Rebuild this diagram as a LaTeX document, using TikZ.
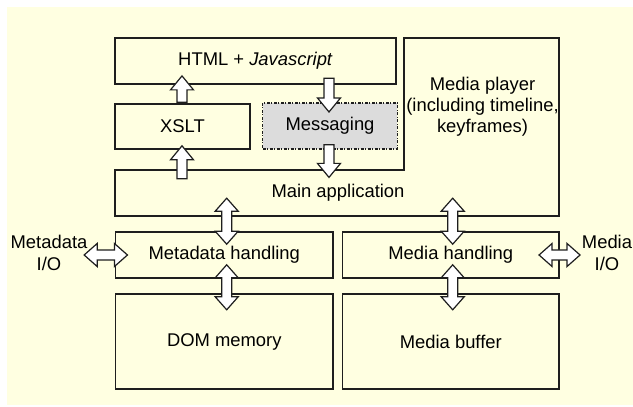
\documentclass[tikz,border=0pt]{standalone}
\usepackage{fontspec}
\setmainfont{Liberation Sans}
\usetikzlibrary{calc}

\definecolor{paper}{RGB}{255,255,225}
\definecolor{msgfill}{RGB}{220,220,220}
\definecolor{ink}{RGB}{30,30,30}

\tikzset{
  box/.style={draw=ink, line width=1.6pt, inner sep=0pt, anchor=center},
  msgbox/.style={box, fill=msgfill, line width=1.4pt,
    dash pattern=on 3pt off 1.5pt on 1pt off 1.5pt},
  blockarr/.style={draw=ink, fill=white, line width=1.2pt, line join=miter},
  lbl/.style={align=center, inner sep=0pt}
}

% one-headed block arrow: tail, tip
\newcommand\onearrow[2]{%
  \coordinate (h) at ($(#2)!14pt!(#1)$);
  \draw[blockarr] ($(#1)!5pt!90:(#2)$) -- ($(h)!5pt!90:(#2)$) -- ($(h)!11.5pt!90:(#2)$)
    -- (#2) -- ($(h)!11.5pt!-90:(#2)$) -- ($(h)!5pt!-90:(#2)$) -- ($(#1)!5pt!-90:(#2)$) -- cycle;
}
% two-headed block arrow: tip, tip
\newcommand\twoarrow[2]{%
  \coordinate (ha) at ($(#1)!13pt!(#2)$);
  \coordinate (hb) at ($(#2)!13pt!(#1)$);
  \draw[blockarr] (#1) -- ($(ha)!11.5pt!90:(#2)$) -- ($(ha)!5pt!90:(#2)$) -- ($(hb)!5pt!90:(#2)$)
    -- ($(hb)!11.5pt!90:(#2)$) -- (#2) -- ($(hb)!11.5pt!-90:(#2)$) -- ($(hb)!5pt!-90:(#2)$)
    -- ($(ha)!5pt!-90:(#2)$) -- ($(ha)!11.5pt!-90:(#2)$) -- cycle;
}

\begin{document}
\begin{tikzpicture}[x=1pt, y=1pt, font=\fontsize{18.4}{21.3}\selectfont]
\useasboundingbox (0,0) rectangle (633,407);
\fill[paper] (7,2) rectangle (633,400);

\coordinate (M1) at (115,237);
\coordinate (M2) at (404,237);
\coordinate (M3) at (404,369);
\coordinate (M4) at (559,369);
\coordinate (M5) at (559,191);
\coordinate (M6) at (115,191);

\node[box, minimum width=281, minimum height=46] (html) at (255.5,346) {HTML + \textit{Javascript}};
\node[box, minimum width=135, minimum height=45] (xslt) at (182.5,280.5) {XSLT};
\node[msgbox, minimum width=134.5, minimum height=46] (msg) at (330,281) {Messaging};

\draw[draw=ink, line width=1.6pt] (M1) -- (M2) -- (M3) -- (M4) -- (M5) -- (M6) -- cycle;
\node[lbl] (mainlbl) at (338,214) {Main application};
\node[lbl] (player) at (482.5,300.3) {Media player\\(including timeline,\\keyframes)};

\node[box, minimum width=217.3, minimum height=46] (metah) at (224.3,152) {Metadata handling};
\node[box, minimum width=216.3, minimum height=46] (mediah) at (450.8,152) {Media handling};
\node[box, minimum width=217.3, minimum height=95] (dom) at (224.3,65.5) {DOM memory};
\node[box, minimum width=216.3, minimum height=95] (buf) at (450.8,65.5) {Media buffer};

\node[lbl] (metaio) at (49,154) {Metadata\\I/O};
\node[lbl] (mediaio) at (607,154) {Media\\I/O};

% arrow ends
\coordinate (a1) at ($(xslt.north)+(-0.5,1)$);
\coordinate (b1) at ($(xslt.north)+(-0.5,27.3)$);
\coordinate (a2) at ($(xslt.south)+(-0.5,-29)$);
\coordinate (b2) at ($(xslt.south)+(-0.5,4)$);
\coordinate (a3) at ($(msg.north)+(-1,24)$);
\coordinate (b3) at ($(msg.north)+(-1,-9.7)$);
\coordinate (a4) at ($(msg.south)+(-1,5)$);
\coordinate (b4) at ($(msg.south)+(-1,-27.7)$);

\coordinate (c1) at ($(metah.north)+(2.4,33)$);
\coordinate (d1) at ($(metah.north)+(2.4,-13)$);
\coordinate (c2) at ($(mediah.north)+(1.9,33)$);
\coordinate (d2) at ($(mediah.north)+(1.9,-13)$);
\coordinate (c3) at ($(metah.south)+(2.4,14)$);
\coordinate (d3) at ($(metah.south)+(2.4,-31)$);
\coordinate (c4) at ($(mediah.south)+(1.9,14)$);
\coordinate (d4) at ($(mediah.south)+(1.9,-31)$);
\coordinate (c5) at ($(metah.west)+(-30.7,0)$);
\coordinate (d5) at ($(metah.west)+(12.6,0)$);
\coordinate (c6) at ($(mediah.east)+(-20.7,0)$);
\coordinate (d6) at ($(mediah.east)+(20.3,0)$);

\onearrow{a1}{b1}
\onearrow{a2}{b2}
\onearrow{a3}{b3}
\onearrow{a4}{b4}

\twoarrow{c1}{d1}
\twoarrow{c2}{d2}
\twoarrow{c3}{d3}
\twoarrow{c4}{d4}
\twoarrow{c5}{d5}
\twoarrow{c6}{d6}

\end{tikzpicture}
\end{document}
